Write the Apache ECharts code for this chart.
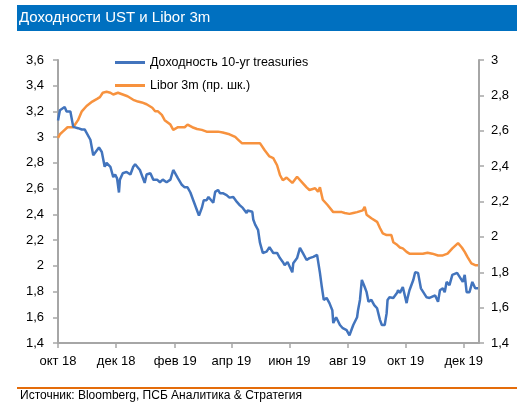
<!DOCTYPE html>
<html>
<head>
<meta charset="utf-8">
<script src="https://cdn.jsdelivr.net/npm/echarts@6/dist/echarts.min.js"></script>
<style>
html,body{margin:0;padding:0;background:#fff;}
#c{width:517px;height:402px;}
</style>
</head>
<body>
<div id="c"></div>
<script>
const titleText = 'Доходности UST и Libor 3m';
const sourceText = 'Источник: Bloomberg, ПСБ Аналитика & Стратегия';
const seriesNames = ['Доходность 10-yr treasuries', 'Libor 3m (пр. шк.)'];

const xRange = ['2018-10-01', '2019-12-17'];
const xTickDates = ['2018-10-01','2018-12-01','2019-02-01','2019-04-01','2019-06-01','2019-08-01','2019-10-01','2019-12-01'];
const xTickLabels = ['окт 18','дек 18','фев 19','апр 19','июн 19','авг 19','окт 19','дек 19'];

const ustDates = ['2018-10-01','2018-10-03','2018-10-05','2018-10-08','2018-10-10','2018-10-14','2018-10-17','2018-10-22','2018-10-26','2018-10-29','2018-10-31',
'2018-11-04','2018-11-07','2018-11-09','2018-11-13','2018-11-16','2018-11-19','2018-11-21','2018-11-25','2018-11-28','2018-11-30',
'2018-12-02','2018-12-04','2018-12-05','2018-12-08','2018-12-12','2018-12-16','2018-12-19','2018-12-21','2018-12-23','2018-12-26','2018-12-28','2018-12-31',
'2019-01-02','2019-01-06','2019-01-09','2019-01-13','2019-01-16','2019-01-19','2019-01-23','2019-01-27','2019-01-30',
'2019-02-01','2019-02-04','2019-02-08','2019-02-11','2019-02-14','2019-02-17','2019-02-20','2019-02-24','2019-02-26',
'2019-03-01','2019-03-03','2019-03-06','2019-03-08','2019-03-13','2019-03-15','2019-03-18','2019-03-20','2019-03-23','2019-03-27','2019-03-30',
'2019-04-03','2019-04-07','2019-04-10','2019-04-13','2019-04-17','2019-04-18','2019-04-23','2019-04-24','2019-04-26','2019-04-29',
'2019-05-01','2019-05-04','2019-05-08','2019-05-11','2019-05-15','2019-05-19','2019-05-22','2019-05-25','2019-05-27','2019-05-30',
'2019-06-04','2019-06-05','2019-06-09','2019-06-12','2019-06-15','2019-06-19','2019-06-22','2019-06-26','2019-06-30',
'2019-07-01','2019-07-03','2019-07-05','2019-07-07','2019-07-10','2019-07-13','2019-07-16','2019-07-17','2019-07-20','2019-07-22','2019-07-24','2019-07-27','2019-07-31',
'2019-08-01','2019-08-03','2019-08-05','2019-08-07','2019-08-11','2019-08-12','2019-08-14','2019-08-16','2019-08-17','2019-08-19','2019-08-21','2019-08-23','2019-08-26','2019-08-29',
'2019-09-01','2019-09-04','2019-09-06','2019-09-09','2019-09-11','2019-09-12','2019-09-14','2019-09-18','2019-09-22','2019-09-23','2019-09-25','2019-09-28','2019-09-30',
'2019-10-02','2019-10-03','2019-10-05','2019-10-09','2019-10-11','2019-10-14','2019-10-17','2019-10-19','2019-10-23','2019-10-26','2019-10-28',
'2019-11-01','2019-11-04','2019-11-06','2019-11-09','2019-11-11','2019-11-13','2019-11-16','2019-11-19','2019-11-24','2019-11-27','2019-11-30',
'2019-12-02','2019-12-04','2019-12-07','2019-12-10','2019-12-13','2019-12-16'];
const ustValues = [3.13,3.21,3.22,3.235,3.20,3.20,3.08,3.07,3.06,3.06,3.06,
2.98,2.86,2.85,2.92,2.885,2.77,2.80,2.77,2.69,2.71,
2.68,2.57,2.67,2.72,2.73,2.71,2.77,2.79,2.78,2.745,2.76,2.645,
2.71,2.72,2.67,2.67,2.65,2.67,2.65,2.67,2.745,
2.73,2.68,2.63,2.61,2.61,2.57,2.51,2.43,2.39,
2.45,2.51,2.51,2.535,2.49,2.575,2.59,2.565,2.565,2.55,2.53,
2.535,2.495,2.47,2.45,2.41,2.43,2.42,2.36,2.32,2.28,
2.18,2.10,2.11,2.145,2.10,2.10,2.06,2.03,2.005,2.03,
1.95,2.02,2.06,2.14,2.10,2.045,2.06,2.07,2.085,
2.07,1.945,1.835,1.735,1.75,1.71,1.655,1.555,1.60,1.60,1.54,1.515,1.50,
1.485,1.46,1.475,1.54,1.60,1.655,1.735,1.89,1.905,1.835,1.795,1.72,1.735,1.695,
1.67,1.58,1.54,1.54,1.63,1.735,1.755,1.75,1.79,1.81,1.79,1.835,1.85,
1.71,1.75,1.81,1.89,1.95,1.945,1.825,1.825,1.755,1.75,1.755,
1.77,1.72,1.81,1.825,1.795,1.875,1.85,1.93,1.945,1.91,1.875,
1.93,1.795,1.795,1.875,1.825,1.825];

const liborDates = ['2018-10-01','2018-10-03','2018-10-06','2018-10-11','2018-10-17','2018-10-22','2018-10-26','2018-10-31',
'2018-11-06','2018-11-11','2018-11-14','2018-11-17','2018-11-21','2018-11-25','2018-11-28',
'2018-12-03','2018-12-08','2018-12-13','2018-12-19','2018-12-24','2018-12-28',
'2019-01-02','2019-01-08','2019-01-11','2019-01-14','2019-01-18','2019-01-21','2019-01-27','2019-01-30',
'2019-02-04','2019-02-08','2019-02-11','2019-02-14','2019-02-19','2019-02-24',
'2019-03-01','2019-03-06','2019-03-13','2019-03-18','2019-03-23','2019-03-30',
'2019-04-05','2019-04-08','2019-04-12','2019-04-17','2019-04-24',
'2019-05-01','2019-05-06','2019-05-11','2019-05-15','2019-05-19','2019-05-22','2019-05-25','2019-05-29',
'2019-06-04','2019-06-09','2019-06-14','2019-06-19','2019-06-22','2019-06-28',
'2019-07-01','2019-07-03','2019-07-06','2019-07-11','2019-07-17','2019-07-21','2019-07-26','2019-07-29',
'2019-08-03','2019-08-07','2019-08-11','2019-08-17','2019-08-19','2019-08-21','2019-08-26',
'2019-09-01','2019-09-04','2019-09-07','2019-09-11','2019-09-16','2019-09-18','2019-09-22','2019-09-25','2019-09-28',
'2019-10-02','2019-10-05','2019-10-13','2019-10-19','2019-10-24','2019-10-29',
'2019-11-04','2019-11-09','2019-11-14','2019-11-19','2019-11-25','2019-11-29',
'2019-12-02','2019-12-05','2019-12-09','2019-12-13','2019-12-16'];
const liborValues = [2.56,2.58,2.595,2.62,2.62,2.66,2.71,2.74,
2.765,2.78,2.79,2.815,2.82,2.815,2.805,
2.815,2.805,2.795,2.775,2.765,2.76,
2.75,2.73,2.71,2.71,2.69,2.66,2.635,2.605,
2.62,2.62,2.62,2.635,2.62,2.61,
2.605,2.595,2.595,2.595,2.59,2.58,
2.565,2.55,2.53,2.53,2.53,
2.53,2.49,2.455,2.445,2.405,2.35,2.32,2.335,
2.305,2.34,2.31,2.28,2.265,2.275,
2.255,2.28,2.21,2.18,2.14,2.14,2.14,2.135,
2.13,2.135,2.14,2.15,2.17,2.125,2.105,
2.085,2.05,2.02,2.01,2.01,1.97,1.955,1.94,1.935,
1.915,1.905,1.905,1.905,1.91,1.905,
1.895,1.895,1.905,1.935,1.965,1.94,
1.915,1.885,1.85,1.84,1.84];

const FONT = '"Liberation Sans", Arial, sans-serif';
const axisGray = '#a6a6a6';
const fmtNum = v => String(Number(v.toFixed(2))).replace('.', ',');
const toTime = d => { const p = d.split('-'); return Date.UTC(+p[0], +p[1]-1, +p[2]); };
const tickTimes = xTickDates.map(toTime);

const chart = echarts.init(document.getElementById('c'), null, {renderer: 'canvas'});
chart.setOption({
  animation: false,
  backgroundColor: '#ffffff',
  textStyle: {fontFamily: FONT},
  graphic: [
    {type: 'rect', left: 17, top: 5, shape: {width: 500, height: 26}, style: {fill: '#0070c0'}},
    {type: 'text', left: 19, top: 10, style: {text: titleText, fill: '#ffffff', font: '15px ' + FONT}},
    {type: 'rect', left: 17, top: 387, shape: {width: 500, height: 2}, style: {fill: '#e46c0a'}},
    {type: 'text', left: 20, top: 390, style: {text: sourceText, fill: '#000000', font: '12px ' + FONT}}
  ],
  legend: {
    orient: 'vertical', left: 115, top: 56, itemGap: 10, padding: 0,
    itemWidth: 30, itemHeight: 3, icon: 'rect',
    textStyle: {fontSize: 12.5, color: '#000', fontFamily: FONT},
    data: seriesNames
  },
  grid: {left: 58, right: 38, top: 60, bottom: 59, containLabel: false, outerBoundsMode: 'none'},
  xAxis: {
    type: 'value',
    min: toTime(xRange[0]), max: toTime(xRange[1]),
    axisLine: {lineStyle: {color: axisGray, width: 2}},
    axisTick: {show: true, length: 5, customValues: tickTimes, lineStyle: {color: axisGray, width: 1.5}},
    axisLabel: {
      customValues: tickTimes, margin: 12, color: '#000', fontSize: 13, fontFamily: FONT,
      formatter: v => { const i = tickTimes.indexOf(v); return i >= 0 ? xTickLabels[i] : ''; }
    },
    splitLine: {show: false}
  },
  yAxis: [
    {
      type: 'value', min: 1.4, max: 3.6, interval: 0.2, position: 'left',
      axisLine: {show: true, lineStyle: {color: axisGray, width: 2}},
      axisTick: {show: true, length: 5, lineStyle: {color: axisGray, width: 1.5}},
      axisLabel: {margin: 14, color: '#000', fontSize: 13, fontFamily: FONT, formatter: fmtNum},
      splitLine: {show: false}
    },
    {
      type: 'value', min: 1.4, max: 3.0, interval: 0.2, position: 'right',
      axisLine: {show: true, lineStyle: {color: axisGray, width: 2}},
      axisTick: {show: true, length: 5, lineStyle: {color: axisGray, width: 1.5}},
      axisLabel: {margin: 12, color: '#000', fontSize: 13, fontFamily: FONT, formatter: fmtNum},
      splitLine: {show: false}
    }
  ],
  series: [
    {
      name: seriesNames[0], type: 'line', yAxisIndex: 0, symbol: 'none',
      lineStyle: {color: '#4274bd', width: 2.5}, itemStyle: {color: '#4274bd'},
      data: ustDates.map((d, i) => [toTime(d), ustValues[i]]), z: 3
    },
    {
      name: seriesNames[1], type: 'line', yAxisIndex: 1, symbol: 'none',
      lineStyle: {color: '#f7923e', width: 2.5}, itemStyle: {color: '#f7923e'},
      data: liborDates.map((d, i) => [toTime(d), liborValues[i]]), z: 2
    }
  ]
});
</script>
</body>
</html>
